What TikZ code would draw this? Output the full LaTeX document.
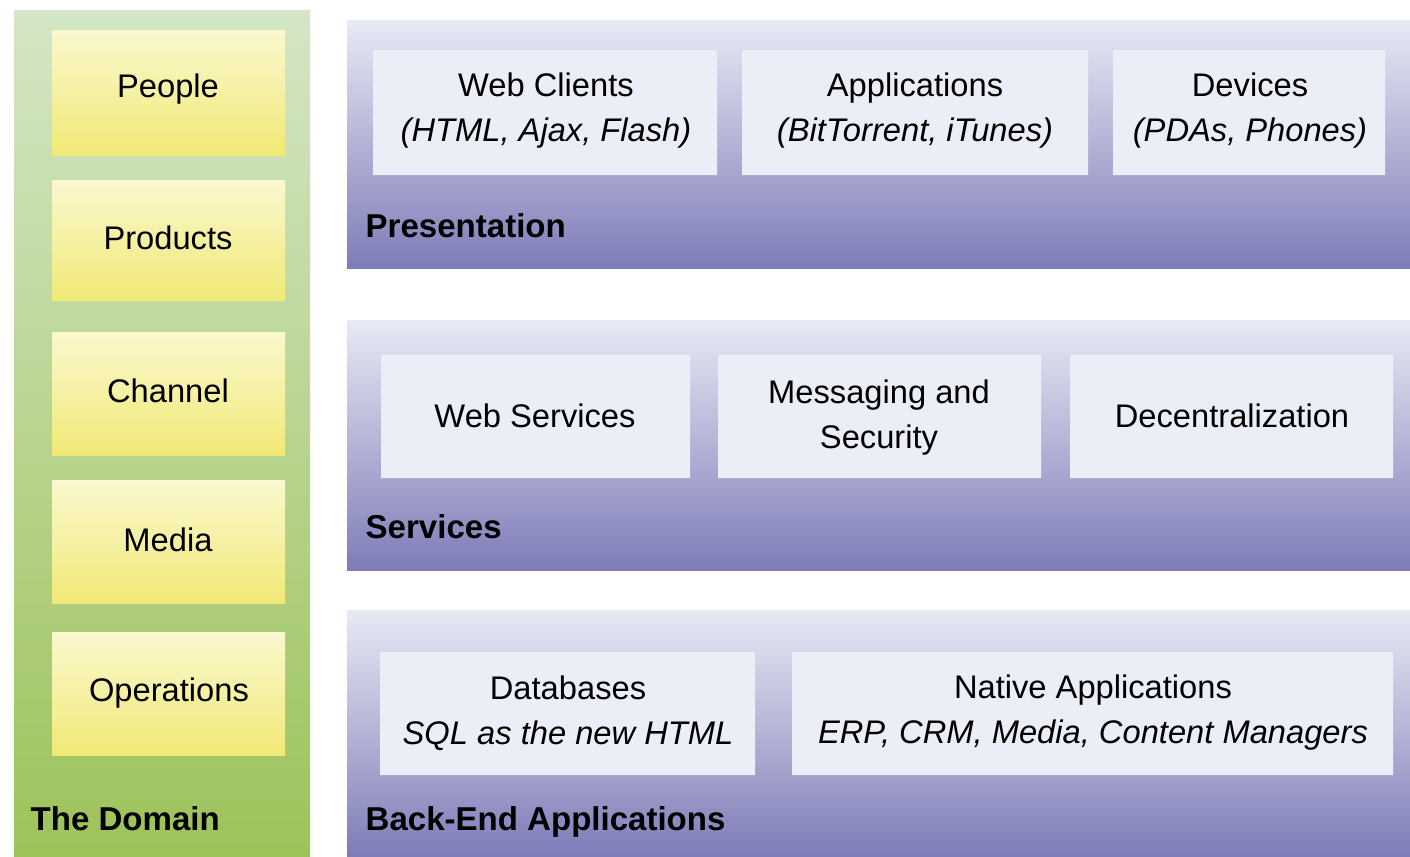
\documentclass[tikz,border=0pt]{standalone}
\usepackage{fontspec}
\setmainfont{Liberation Sans}
\usetikzlibrary{positioning}
\definecolor{domaintop}{HTML}{D3E6C6}
\definecolor{domainbot}{HTML}{9DC35A}
\definecolor{itemtop}{HTML}{FAF8CF}
\definecolor{itembot}{HTML}{F1E976}
\definecolor{layertop}{HTML}{E8EAF4}
\definecolor{layerbot}{HTML}{7E7CB8}
\definecolor{cellfill}{HTML}{EBEEF6}

\begin{document}
\begin{tikzpicture}[ x=0.1mm, y=-0.1mm
                   , domaincol/.style={top color=domaintop, bottom color=domainbot}
                   , item/.style={top color=itemtop, bottom color=itembot}
                   , layer/.style={top color=layertop, bottom color=layerbot}
                   , cell/.style={fill=cellfill}
                   , txt/.style={font=\fontsize{9.3}{12.8}\selectfont, align=center, inner sep=0pt}
                   , ttl/.style={font=\fontsize{9.4}{12}\selectfont\bfseries, inner sep=0pt, anchor=base west}
                   ]

      \fill [white] (0,0) rectangle (1410,856);
      \useasboundingbox (0,0) rectangle (1410,856);

      % the domain column
      \path [domaincol] (14,10) rectangle (310,856);
      \foreach \top/\bot in {30/155, 180/300, 332/455, 480/603, 632/755}
        \path [item] (52,\top) rectangle (285,\bot);
      \node (people) [txt] at (168,89) {People};
      \node (products) [txt] at (168,238) {Products};
      \node (channel) [txt] at (168,391) {Channel};
      \node (media) [txt] at (168,540) {Media};
      \node (operations) [txt] at (169,693) {Operations};
      \node (domainlbl) [ttl] at (30,830) {The Domain};

      % presentation layer
      \path [layer] (347,20) rectangle (1410,268);
      \path [cell] (373,50) rectangle (717,175)
                   (742,50) rectangle (1088,175)
                   (1113,50) rectangle (1385,175);
      \node (webclients) [txt] at (546,111) {Web Clients\\\textit{(HTML, Ajax, Flash)}};
      \node (apps) [txt] at (915,111) {Applications\\\textit{(BitTorrent, iTunes)}};
      \node (devices) [txt] at (1250,111) {Devices\\\textit{(PDAs, Phones)}};
      \node (preslbl) [ttl] at (365,237) {Presentation};

      % services layer
      \path [layer] (347,320) rectangle (1410,570);
      \path [cell] (381,355) rectangle (690,478)
                   (718,355) rectangle (1041,478)
                   (1070,355) rectangle (1393,478);
      \node (websrv) [txt] at (535,416) {Web Services};
      \node (msgsec) [txt] at (879,418) {Messaging and\\Security};
      \node (decentral) [txt] at (1232,416) {Decentralization};
      \node (srvlbl) [ttl] at (365,538) {Services};

      % back-end layer
      \path [layer] (347,610) rectangle (1410,856);
      \path [cell] (380,652) rectangle (755,775)
                   (792,652) rectangle (1393,775);
      \node (dbs) [txt] at (568,713) {Databases\\\textit{SQL as the new HTML}};
      \node (nativeapps) [txt] at (1093,713) {Native Applications\\\textit{ERP, CRM, Media, Content Managers}};
      \node (backlbl) [ttl] at (365,830) {Back-End Applications};

  \end{tikzpicture}
\end{document}
